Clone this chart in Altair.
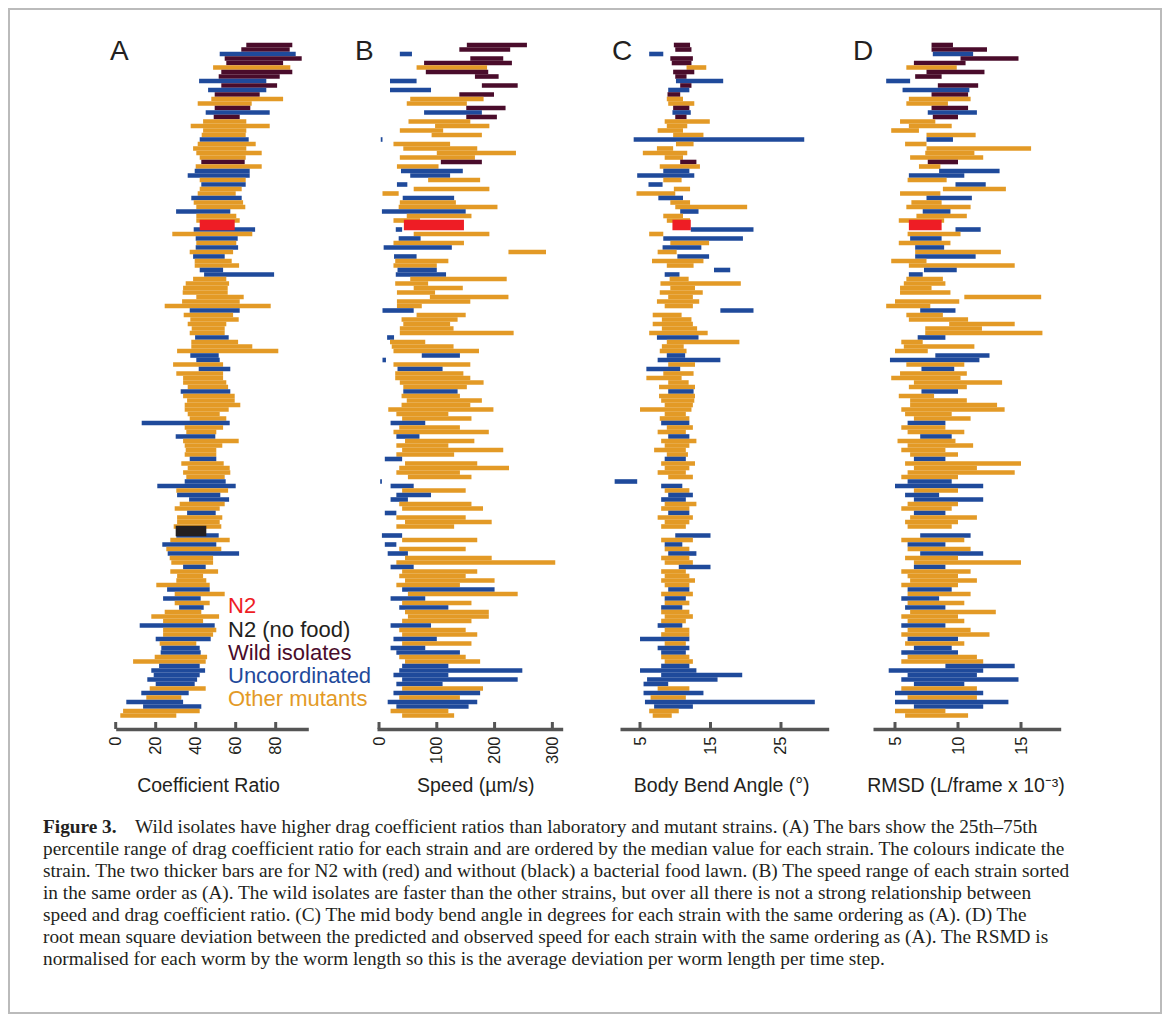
import altair as alt
import pandas as pd

# ---------------- data (top row first) ----------------
# W = wild isolate, O = other mutant, U = uncoordinated, N = N2, K = N2 (no food)
strain_type = [
    "W", "W", "U", "W", "W", "O", "W", "W", "U", "W",
    "U", "W", "O", "O", "W", "U", "W", "O", "O", "O",
    "O", "U", "O", "O", "O", "O", "W", "O", "U", "U",
    "O", "U", "O", "O", "U", "O", "O", "U", "O", "O",
    "N", "U", "O", "U", "O", "U", "O", "U", "O", "O",
    "U", "U", "O", "O", "O", "O", "O", "O", "O", "U",
    "O", "O", "O", "O", "O", "U", "O", "O", "O", "U",
    "U", "O", "U", "O", "O", "O", "O", "U", "O", "O",
    "O", "O", "O", "O", "U", "O", "O", "U", "O", "O",
    "O", "O", "U", "O", "O", "O", "O", "U", "U", "O",
    "U", "U", "O", "O", "U", "O", "O", "O", "K", "U",
    "O", "U", "O", "U", "O", "O", "U", "O", "O", "O",
    "O", "U", "O", "U", "O", "U", "O", "O", "O", "U",
    "O", "O", "U", "O", "U", "U", "O", "O", "U", "U",
    "U", "U", "U", "O", "U", "O", "U", "U", "O", "O",
]

coef_lo = [
    65.3, 62.8, 52.0, 54.5, 55.3, 48.7, 52.8, 51.5, 41.7, 52.8,
    46.2, 49.5, 47.8, 41.0, 49.5, 45.0, 49.0, 43.7, 37.5, 43.7,
    43.0, 42.0, 41.0, 38.7, 40.3, 42.0, 42.8, 40.0, 39.5, 36.0,
    42.0, 42.8, 42.0, 41.0, 37.8, 39.0, 40.3, 30.2, 40.3, 40.3,
    42.0, 39.0, 28.3, 40.0, 40.3, 40.0, 37.0, 38.7, 39.5, 39.5,
    42.0, 44.2, 38.7, 35.0, 33.7, 33.5, 40.3, 33.2, 24.5, 37.0,
    34.0, 37.3, 36.0, 38.0, 37.0, 39.7, 37.8, 37.8, 30.7, 37.3,
    40.3, 28.7, 41.5, 30.3, 33.7, 33.7, 36.0, 32.5, 33.7, 35.7,
    34.5, 34.5, 36.0, 37.0, 13.0, 34.5, 35.3, 30.0, 33.7, 34.5,
    35.0, 34.5, 37.0, 32.8, 36.0, 33.7, 35.3, 34.5, 20.8, 30.3,
    30.7, 36.7, 32.0, 29.5, 35.7, 30.7, 30.7, 29.0, 30.0, 30.3,
    27.3, 23.3, 25.3, 26.0, 27.0, 27.8, 33.7, 27.3, 30.7, 30.3,
    20.3, 25.7, 29.5, 23.7, 29.5, 31.7, 24.5, 17.8, 23.7, 12.0,
    23.7, 23.7, 20.0, 22.0, 22.8, 22.5, 19.5, 8.7, 21.7, 17.8,
    19.0, 15.8, 20.0, 17.0, 12.8, 15.3, 5.3, 13.7, 3.7, 2.3,
]
coef_hi = [
    88.3, 87.0, 90.0, 93.0, 83.7, 87.3, 88.3, 82.0, 75.3, 80.7,
    75.3, 72.0, 83.7, 68.0, 67.3, 77.0, 62.0, 65.3, 77.0, 65.3,
    65.0, 66.5, 70.0, 65.3, 73.0, 65.0, 64.5, 73.0, 67.0, 67.0,
    65.0, 65.0, 63.0, 60.0, 63.0, 63.7, 64.8, 57.3, 60.3, 62.0,
    59.5, 69.7, 68.3, 61.0, 60.3, 61.2, 58.7, 54.5, 58.0, 61.7,
    53.7, 79.2, 55.3, 56.7, 56.0, 56.0, 64.0, 62.0, 77.5, 62.0,
    58.7, 61.5, 55.3, 54.5, 54.5, 56.5, 61.2, 68.3, 81.3, 51.5,
    52.0, 53.7, 57.3, 53.7, 53.7, 55.3, 56.2, 57.3, 59.5, 59.5,
    62.3, 56.5, 52.0, 55.3, 57.0, 53.7, 50.3, 49.8, 61.5, 53.3,
    50.3, 50.3, 50.3, 54.0, 57.0, 57.3, 54.5, 55.0, 60.0, 56.2,
    52.3, 56.7, 54.5, 52.0, 50.0, 53.3, 52.0, 52.8, 45.3, 51.5,
    57.0, 50.3, 52.8, 61.7, 48.7, 48.7, 45.0, 51.2, 43.7, 45.3,
    47.0, 47.0, 54.5, 42.5, 47.0, 44.0, 42.8, 51.7, 43.7, 49.5,
    50.3, 48.7, 47.5, 40.3, 42.0, 42.5, 45.7, 45.0, 42.0, 44.7,
    42.0, 40.7, 39.5, 45.0, 36.5, 32.8, 33.7, 42.8, 42.0, 30.3,
]

# None = no bar for that strain in the panel (N2 without food appears in A only)
speed_lo = [
    152, 139, 36, 158, 78, 65, 81, 166, 19, 178,
    19, 139, 54, 48, 151, 78, 151, 51, 97, 36,
    91, 3, 25, 42, 100, 36, 107, 31, 38, 54,
    85, 31, 60, 6, 41, 36, 34, 5, 48, 25,
    43, 29, 60, 34, 25, 8, 224, 26, 28, 25,
    32, 29, 54, 28, 60, 31, 88, 31, 31, 6,
    65, 39, 42, 36, 36, 14, 19, 22, 25, 74,
    6, 25, 32, 28, 28, 36, 42, 42, 39, 48,
    39, 16, 30, 40, 20, 35, 25, 30, 45, 30,
    40, 30, 10, 45, 35, 30, 50, 2, 20, 40,
    30, 20, 35, 40, 10, 30, 45, 30, None, 5,
    40, 10, 35, 15, 45, 30, 20, 40, 35, 45,
    30, 40, 50, 20, 40, 35, 45, 50, 40, 20,
    35, 40, 25, 40, 20, 30, 35, 45, 40, 35,
    25, 40, 30, 40, 25, 35, 15, 30, 20, 40,
]
speed_hi = [
    256, 227, 57, 215, 230, 187, 189, 207, 65, 240,
    90, 199, 181, 152, 219, 178, 204, 158, 191, 111,
    178, 6, 123, 170, 237, 166, 178, 103, 145, 123,
    175, 49, 191, 34, 130, 133, 205, 150, 160, 71,
    147, 40, 191, 72, 147, 126, 289, 65, 120, 100,
    100, 116, 221, 85, 145, 97, 224, 158, 74, 60,
    150, 136, 123, 129, 233, 26, 80, 129, 173, 140,
    12, 158, 110, 146, 158, 181, 152, 136, 140, 178,
    158, 198, 120, 160, 80, 140, 190, 70, 165, 120,
    215, 130, 40, 170, 225, 140, 160, 5, 60, 150,
    90, 50, 160, 180, 30, 150, 195, 130, None, 40,
    170, 30, 150, 50, 195, 305, 60, 170, 150, 200,
    140, 200, 240, 80, 160, 120, 190, 190, 160, 90,
    150, 170, 100, 160, 80, 140, 150, 175, 120, 248,
    120, 240, 110, 180, 175, 140, 170, 155, 120, 130,
]

bend_lo = [
    9.8, 10.0, 6.3, 9.3, 9.5, 11.6, 9.7, 10.0, 10.1, 10.7,
    9.0, 8.9, 8.8, 9.0, 9.7, 9.6, 10.0, 8.5, 8.8, 7.5,
    9.7, 4.1, 10.1, 7.4, 5.4, 8.5, 10.7, 7.8, 8.3, 4.6,
    8.3, 6.2, 9.8, 4.5, 7.6, 9.3, 10.0, 10.7, 8.3, 8.8,
    9.6, 12.2, 6.3, 8.3, 9.3, 8.2, 7.5, 10.3, 6.7, 8.8,
    15.5, 8.5, 9.2, 7.9, 9.3, 7.8, 9.0, 7.4, 8.5, 16.4,
    6.8, 8.1, 6.8, 8.1, 6.3, 7.4, 8.8, 8.1, 7.8, 8.8,
    7.5, 9.0, 5.9, 8.3, 5.9, 9.0, 7.7, 9.0, 7.7, 8.0,
    8.5, 5.0, 8.5, 7.8, 8.0, 8.8, 7.5, 9.0, 8.0, 8.5,
    7.0, 8.8, 8.5, 8.0, 8.5, 7.5, 9.0, 1.4, 8.0, 8.5,
    9.0, 8.0, 8.5, 8.0, 9.0, 7.5, 8.5, 8.0, None, 10.0,
    8.0, 8.5, 8.5, 9.0, 8.0, 8.5, 10.5, 8.0, 8.5, 8.0,
    8.5, 9.0, 8.0, 8.5, 8.5, 8.0, 8.0, 8.5, 8.0, 7.5,
    8.5, 8.0, 5.0, 8.5, 7.5, 8.0, 8.0, 8.5, 8.0, 5.0,
    8.0, 6.0, 5.5, 7.5, 5.5, 6.5, 5.7, 7.0, 6.3, 6.8,
]
bend_hi = [
    12.1, 12.3, 8.3, 12.5, 12.3, 14.4, 12.7, 11.6, 16.8, 12.3,
    12.0, 10.7, 11.1, 12.7, 12.0, 12.2, 11.6, 14.9, 11.7, 11.1,
    14.0, 28.3, 12.6, 9.7, 11.7, 11.1, 13.0, 13.5, 12.0, 12.7,
    10.9, 8.2, 12.1, 10.0, 11.1, 12.1, 20.2, 13.3, 11.1, 12.1,
    12.2, 21.1, 8.3, 19.6, 14.8, 13.7, 10.2, 14.8, 14.0, 12.6,
    17.8, 10.6, 11.9, 19.3, 12.8, 13.9, 12.5, 13.4, 12.5, 21.1,
    10.9, 12.3, 12.5, 13.1, 14.6, 13.3, 19.1, 11.2, 11.6, 11.4,
    16.4, 12.8, 10.7, 12.6, 10.9, 11.9, 12.8, 12.6, 12.8, 12.7,
    12.5, 12.3, 11.5, 12.0, 12.0, 12.5, 11.5, 12.0, 13.0, 12.0,
    11.5, 11.8, 11.5, 12.8, 12.0, 11.5, 12.5, 4.6, 11.0, 12.0,
    12.5, 11.5, 13.0, 12.0, 12.0, 12.5, 12.0, 11.5, None, 15.0,
    12.5, 11.0, 12.0, 13.0, 12.0, 12.5, 15.0, 11.5, 12.0, 12.8,
    12.0, 12.0, 12.5, 11.5, 12.0, 11.0, 12.0, 12.5, 11.5, 11.0,
    12.0, 12.0, 12.0, 11.5, 12.0, 11.5, 12.0, 12.5, 12.0, 13.0,
    19.5, 16.0, 9.0, 12.0, 14.0, 11.5, 29.8, 12.5, 10.5, 9.5,
]

rmsd_lo = [
    7.9, 7.9, 8.0, 10.2, 6.5, 5.9, 7.5, 6.6, 4.3, 8.4,
    5.6, 7.9, 6.1, 5.9, 7.9, 7.6, 8.0, 5.4, 6.1, 4.7,
    7.5, 7.5, 5.8, 7.5, 7.4, 6.2, 7.6, 6.9, 8.5, 6.1,
    6.0, 9.8, 8.8, 5.4, 7.5, 6.3, 5.9, 7.2, 6.7, 5.3,
    6.1, 9.8, 6.0, 6.2, 5.3, 6.6, 6.6, 6.6, 4.7, 6.1,
    7.3, 6.1, 5.9, 5.7, 5.4, 5.4, 10.5, 5.0, 4.3, 7.0,
    5.9, 6.1, 9.3, 7.4, 7.4, 6.8, 5.5, 5.7, 5.0, 8.2,
    4.6, 5.9, 7.1, 5.4, 4.7, 6.5, 6.1, 7.1, 5.3, 6.2,
    6.2, 5.5, 5.8, 6.5, 6.0, 5.5, 6.0, 7.0, 5.2, 6.0,
    5.5, 6.2, 6.5, 5.8, 6.5, 6.0, 5.5, 6.0, 5.0, 6.5,
    5.8, 6.5, 6.0, 5.5, 6.5, 6.2, 5.8, 6.0, None, 7.0,
    5.5, 6.0, 6.0, 7.0, 5.8, 6.5, 6.5, 5.5, 6.0, 6.2,
    5.5, 6.0, 6.0, 5.5, 6.0, 5.8, 6.2, 5.5, 6.0, 5.5,
    6.0, 5.5, 6.0, 5.8, 6.5, 5.5, 6.0, 5.5, 9.0, 4.5,
    6.0, 5.5, 6.5, 5.5, 5.0, 6.0, 5.0, 6.5, 5.0, 5.8,
]
rmsd_hi = [
    9.6, 12.3, 11.2, 14.8, 10.6, 9.9, 12.1, 8.7, 6.2, 11.6,
    10.9, 10.8, 11.0, 9.2, 10.8, 11.5, 10.0, 8.2, 9.5, 6.9,
    11.4, 9.6, 7.5, 15.8, 11.3, 12.0, 10.0, 8.6, 13.3, 10.5,
    9.1, 12.2, 13.8, 8.6, 11.1, 8.7, 11.0, 9.4, 10.7, 8.9,
    8.7, 11.8, 10.2, 8.7, 9.4, 8.9, 13.4, 11.4, 7.5, 14.5,
    9.9, 7.2, 8.8, 9.0, 7.9, 9.4, 16.6, 10.1, 7.8, 9.8,
    8.8, 10.8, 14.5, 11.9, 16.7, 9.0, 7.2, 11.3, 7.6, 12.5,
    11.7, 10.5, 9.7, 10.7, 10.2, 13.5, 10.7, 10.0, 8.1, 10.7,
    13.1, 13.7, 9.5, 11.0, 9.0, 9.0, 10.5, 9.5, 9.8, 11.2,
    9.0, 10.0, 9.0, 15.0, 11.5, 14.5, 10.0, 9.5, 12.0, 10.0,
    8.5, 12.0, 10.0, 9.5, 9.0, 11.5, 10.0, 9.5, None, 11.0,
    10.5, 9.0, 11.0, 12.0, 10.0, 15.0, 9.0, 11.0, 10.0, 11.5,
    10.0, 9.5, 11.0, 8.5, 10.5, 9.0, 13.0, 10.0, 10.5, 9.0,
    11.0, 12.5, 10.0, 10.5, 9.5, 10.0, 11.5, 12.0, 14.5, 12.0,
    11.5, 14.8, 10.5, 11.5, 12.0, 11.5, 14.0, 12.0, 9.0, 10.8,
]

coef_ticks = [0, 20, 40, 60, 80]
speed_ticks = [0, 100, 200, 300]
bend_ticks = [5, 15, 25]
rmsd_ticks = [5, 10, 15]

group_names = {"W": "Wild isolates", "O": "Other mutants", "U": "Uncoordinated",
               "N": "N2", "K": "N2 (no food)"}
groups = ["N2", "N2 (no food)", "Wild isolates", "Uncoordinated", "Other mutants"]
group_colors = ["#EE1D25", "#231F20", "#4A0C2B", "#1F4A9B", "#E39A26"]

caption_first = "Wild isolates have higher drag coefficient ratios than laboratory and mutant strains. (A) The bars show the 25th\u201375th"
caption_rest = [
    "percentile range of drag coefficient ratio for each strain and are ordered by the median value for each strain. The colours indicate the",
    "strain. The two thicker bars are for N2 with (red) and without (black) a bacterial food lawn. (B) The speed range of each strain sorted",
    "in the same order as (A). The wild isolates are faster than the other strains, but over all there is not a strong relationship between",
    "speed and drag coefficient ratio. (C) The mid body bend angle in degrees for each strain with the same ordering as (A). (D) The",
    "root mean square deviation between the predicted and observed speed for each strain with the same ordering as (A). The RSMD is",
    "normalised for each worm by the worm length so this is the average deviation per worm length per time step.",
]

# ---------------- table ----------------
n = len(strain_type)
df = pd.DataFrame({
    "row": list(range(n)),
    "group": [group_names[t] for t in strain_type],
    "a_lo": coef_lo, "a_hi": coef_hi,
    "b_lo": speed_lo, "b_hi": speed_hi,
    "c_lo": bend_lo, "c_hi": bend_hi,
    "d_lo": rmsd_lo, "d_hi": rmsd_hi,
})

FONT = "Liberation Sans"
SERIF = "Liberation Serif"
INK = "#231F20"
AXC = "#555555"
AXIS_H = 721

color = alt.Color("group:N", scale=alt.Scale(domain=groups, range=group_colors), legend=None)
yenc = alt.Y("row:Q", scale=alt.Scale(domain=[0, n - 1], range=[37, 707.5], nice=False, zero=False),
             axis=None)


def make_axis(ticks):
    return alt.Axis(values=ticks, orient="bottom", title=None, grid=False, domain=True,
                    domainColor=AXC, domainWidth=3.5, ticks=False, tickSize=0,
                    labelAngle=270, labelAlign="right", labelBaseline="middle",
                    labelPadding=7, labelFontSize=16.5, labelFont=FONT, labelColor=INK,
                    labelFlush=False, labelOverlap=False)


def panel(lo, hi, domain, rng, ticks):
    xs = alt.Scale(domain=domain, range=rng, nice=False, zero=False)
    ax = make_axis(ticks)
    base = alt.Chart(df)
    thin = base.transform_filter(
        "datum.group != 'N2' && datum.group != 'N2 (no food)'"
    ).mark_rule(strokeWidth=4.6, strokeCap="butt").encode(
        x=alt.X(f"{lo}:Q", scale=xs, axis=ax), x2=f"{hi}:Q", y=yenc, color=color)
    thick = base.transform_filter(
        f"(datum.group == 'N2' || datum.group == 'N2 (no food)') && isValid(datum.{lo})"
    ).mark_rule(strokeWidth=10.5, strokeCap="butt").encode(
        x=alt.X(f"{lo}:Q", scale=xs, axis=ax), x2=f"{hi}:Q", y=yenc, color=color)
    tk = alt.Chart(pd.DataFrame({"v": ticks})).mark_rule(
        strokeWidth=3, color=AXC, strokeCap="butt").encode(
        x=alt.X("v:Q", scale=xs, axis=ax), y=alt.value(AXIS_H - 7), y2=alt.value(AXIS_H))
    return alt.layer(thin, thick, tk)


pA = panel("a_lo", "a_hi", [0, 96.3], [107.7, 300.3], coef_ticks)
pB = panel("b_lo", "b_hi", [-3.5, 317.9], [369, 554.7], speed_ticks)
pC = panel("c_lo", "c_hi", [2.16, 31.77], [612, 820.7], bend_ticks)
pD = panel("d_lo", "d_hi", [3.254, 18.15], [865, 1052.7], rmsd_ticks)

ONE = pd.DataFrame({"k": [0]})


def txt(s, x, y, size, col=INK, align="left", weight="normal", font=FONT, **kw):
    return alt.Chart(ONE).mark_text(text=s, font=font, fontSize=size, color=col, align=align,
                                    baseline="alphabetic", fontWeight=weight, **kw).encode(
        x=alt.value(x), y=alt.value(y))


texts = [
    txt("A", 102, 52, 28), txt("B", 347, 52, 28), txt("C", 604, 52, 28), txt("D", 845, 52, 28),
    txt("N2", 220, 605, 22, col=group_colors[0]),
    txt("N2 (no food)", 220, 628.5, 22, col=group_colors[1]),
    txt("Wild isolates", 220, 651.5, 22, col=group_colors[2]),
    txt("Uncoordinated", 220, 674.5, 22, col=group_colors[3]),
    txt("Other mutants", 220, 698, 22, col=group_colors[4]),
    txt("Coefficient Ratio", 200.5, 784, 19.5, align="center"),
    txt("Speed (\u00b5m/s)", 467.7, 784, 19.5, align="center"),
    txt("Body Bend Angle (\u00b0)", 713.7, 784, 19.5, align="center"),
    txt("RMSD (L/frame x 10\u207b\u00b3)", 958, 784, 19.5, align="center"),
    txt("Figure 3.", 35, 825, 19.3, weight="bold", font=SERIF),
    txt(caption_first, 127, 825, 19.3, font=SERIF),
    txt(caption_rest, 35, 847, 19.3, font=SERIF, lineHeight=22),
]

frame = alt.Chart(ONE).mark_rect(fillOpacity=0, stroke="#BBBBBB", strokeWidth=2).encode(
    x=alt.value(1), x2=alt.value(1153), y=alt.value(1), y2=alt.value(1005))

chart = alt.layer(frame, pA, pB, pC, pD, *texts).resolve_scale(x="independent").properties(
    width=1154, height=AXIS_H,
    autosize=alt.AutoSizeParams(type="none"),
    padding={"left": 0, "top": 0, "right": 0, "bottom": 290},
).configure_view(stroke=None)

chart.save("out.html", embed_options={"renderer": "svg", "actions": False})
